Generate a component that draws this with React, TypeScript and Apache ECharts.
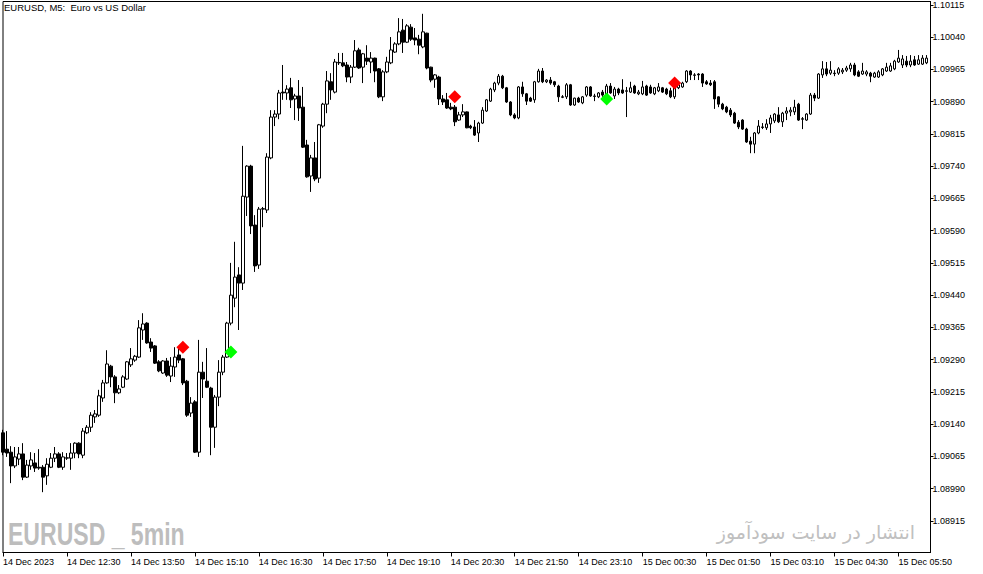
import React, { useEffect, useRef } from "react";
import * as echarts from "echarts";

// [open, close, low, high] per 5-minute candle, grouped by the 80-minute label periods
const c1110 = [
  [1.09120, 1.09075, 1.09068, 1.09127], [1.09082, 1.09073, 1.09064, 1.09124],
  [1.09075, 1.09043, 1.09003, 1.09089], [1.09043, 1.09064, 1.09038, 1.09087],
  [1.09059, 1.09071, 1.09045, 1.09087], [1.09071, 1.09017, 1.09010, 1.09096],
  [1.09017, 1.09045, 1.09015, 1.09057], [1.09043, 1.09057, 1.09034, 1.09075],
  [1.09050, 1.09038, 1.09029, 1.09073], [1.09040, 1.09038, 1.09034, 1.09082],
  [1.09040, 1.09017, 1.08982, 1.09045], [1.09020, 1.09047, 1.08999, 1.09061],
  [1.09040, 1.09061, 1.09038, 1.09073], [1.09061, 1.09071, 1.09052, 1.09087],
  [1.09071, 1.09040, 1.09038, 1.09075], [1.09040, 1.09064, 1.09034, 1.09075],
];
const c1230 = [
  [1.09061, 1.09062, 1.09057, 1.09073], [1.09061, 1.09073, 1.09034, 1.09096],
  [1.09073, 1.09096, 1.09061, 1.09098], [1.09096, 1.09071, 1.09061, 1.09098],
  [1.09068, 1.09124, 1.09061, 1.09131], [1.09120, 1.09133, 1.09117, 1.09138],
  [1.09133, 1.09161, 1.09122, 1.09168], [1.09157, 1.09164, 1.09143, 1.09173],
  [1.09161, 1.09206, 1.09157, 1.09220], [1.09201, 1.09236, 1.09192, 1.09243],
  [1.09236, 1.09280, 1.09234, 1.09312], [1.09275, 1.09250, 1.09226, 1.09278],
  [1.09250, 1.09213, 1.09189, 1.09254], [1.09213, 1.09222, 1.09210, 1.09231],
  [1.09226, 1.09250, 1.09224, 1.09254], [1.09245, 1.09285, 1.09243, 1.09287],
];
const c1350 = [
  [1.09278, 1.09292, 1.09273, 1.09317], [1.09289, 1.09298, 1.09285, 1.09301],
  [1.09296, 1.09364, 1.09294, 1.09382], [1.09359, 1.09373, 1.09336, 1.09398],
  [1.09375, 1.09329, 1.09327, 1.09377], [1.09331, 1.09317, 1.09308, 1.09340],
  [1.09322, 1.09282, 1.09280, 1.09324], [1.09285, 1.09264, 1.09261, 1.09289],
  [1.09259, 1.09287, 1.09257, 1.09289], [1.09287, 1.09254, 1.09250, 1.09294],
  [1.09252, 1.09275, 1.09238, 1.09296], [1.09273, 1.09296, 1.09250, 1.09319],
  [1.09301, 1.09289, 1.09282, 1.09319], [1.09292, 1.09236, 1.09231, 1.09294],
  [1.09240, 1.09161, 1.09157, 1.09243], [1.09166, 1.09189, 1.09157, 1.09203],
];
const c1510 = [
  [1.09192, 1.09075, 1.09073, 1.09196], [1.09075, 1.09261, 1.09064, 1.09336],
  [1.09261, 1.09245, 1.09201, 1.09285], [1.09240, 1.09226, 1.09224, 1.09317],
  [1.09224, 1.09133, 1.09068, 1.09227], [1.09133, 1.09203, 1.09085, 1.09208],
  [1.09203, 1.09261, 1.09182, 1.09289], [1.09261, 1.09296, 1.09254, 1.09301],
  [1.09296, 1.09375, 1.09294, 1.09378], [1.09375, 1.09440, 1.09370, 1.09515],
  [1.09433, 1.09482, 1.09412, 1.09564], [1.09487, 1.09468, 1.09359, 1.09505],
  [1.09468, 1.09670, 1.09452, 1.09787], [1.09668, 1.09740, 1.09624, 1.09742],
  [1.09740, 1.09601, 1.09582, 1.09743], [1.09603, 1.09508, 1.09494, 1.09626],
];
const c1630 = [
  [1.09510, 1.09640, 1.09501, 1.09645], [1.09640, 1.09641, 1.09598, 1.09645],
  [1.09638, 1.09761, 1.09631, 1.09770], [1.09759, 1.09854, 1.09756, 1.09870],
  [1.09854, 1.09861, 1.09833, 1.09870], [1.09861, 1.09910, 1.09849, 1.09917],
  [1.09912, 1.09910, 1.09894, 1.09975], [1.09910, 1.09919, 1.09894, 1.09928],
  [1.09922, 1.09894, 1.09875, 1.09945], [1.09896, 1.09903, 1.09847, 1.09908],
  [1.09903, 1.09875, 1.09845, 1.09940], [1.09877, 1.09784, 1.09782, 1.09924],
  [1.09789, 1.09715, 1.09713, 1.09801], [1.09717, 1.09759, 1.09680, 1.09766],
  [1.09759, 1.09710, 1.09705, 1.09796], [1.09712, 1.09836, 1.09701, 1.09838],
];
const c1750 = [
  [1.09833, 1.09884, 1.09829, 1.09887], [1.09884, 1.09938, 1.09863, 1.09961],
  [1.09936, 1.09917, 1.09894, 1.09956], [1.09912, 1.09982, 1.09909, 1.09989],
  [1.09980, 1.09981, 1.09975, 1.10003], [1.09980, 1.09973, 1.09970, 1.10003],
  [1.09975, 1.09947, 1.09935, 1.09982], [1.09947, 1.09970, 1.09933, 1.09975],
  [1.09970, 1.10008, 1.09968, 1.10033], [1.10010, 1.09968, 1.09966, 1.10015],
  [1.09970, 1.10001, 1.09933, 1.10003], [1.09991, 1.09984, 1.09975, 1.10021],
  [1.09982, 1.09991, 1.09956, 1.10005], [1.09991, 1.09961, 1.09935, 1.09992],
  [1.09966, 1.09901, 1.09898, 1.09968], [1.09901, 1.09959, 1.09891, 1.09963],
];
const c1910 = [
  [1.09959, 1.09982, 1.09956, 1.09994], [1.09980, 1.10010, 1.09977, 1.10040],
  [1.10005, 1.10024, 1.10003, 1.10028], [1.10024, 1.10052, 1.10021, 1.10084],
  [1.10056, 1.10028, 1.10003, 1.10082], [1.10028, 1.10066, 1.10026, 1.10070],
  [1.10063, 1.10035, 1.10031, 1.10070], [1.10038, 1.10033, 1.10021, 1.10061],
  [1.10035, 1.10021, 1.10000, 1.10045], [1.10017, 1.10052, 1.10014, 1.10094],
  [1.10049, 1.09968, 1.09965, 1.10050], [1.09970, 1.09940, 1.09935, 1.09971],
  [1.09942, 1.09952, 1.09922, 1.09954], [1.09947, 1.09896, 1.09882, 1.09950],
  [1.09896, 1.09889, 1.09882, 1.09905], [1.09894, 1.09875, 1.09873, 1.09910],
];
const c2030 = [
  [1.09877, 1.09873, 1.09870, 1.09887], [1.09877, 1.09843, 1.09833, 1.09882],
  [1.09847, 1.09859, 1.09845, 1.09866], [1.09859, 1.09866, 1.09854, 1.09884],
  [1.09866, 1.09829, 1.09828, 1.09867], [1.09833, 1.09829, 1.09826, 1.09836],
  [1.09831, 1.09812, 1.09810, 1.09847], [1.09817, 1.09840, 1.09796, 1.09843],
  [1.09840, 1.09870, 1.09838, 1.09877], [1.09868, 1.09894, 1.09866, 1.09896],
  [1.09891, 1.09919, 1.09889, 1.09922], [1.09917, 1.09933, 1.09912, 1.09936],
  [1.09933, 1.09949, 1.09928, 1.09954], [1.09949, 1.09922, 1.09919, 1.09952],
  [1.09922, 1.09889, 1.09887, 1.09924], [1.09889, 1.09859, 1.09856, 1.09891],
];
const c2150 = [
  [1.09859, 1.09852, 1.09849, 1.09863], [1.09852, 1.09924, 1.09849, 1.09926],
  [1.09924, 1.09908, 1.09901, 1.09936], [1.09908, 1.09891, 1.09882, 1.09910],
  [1.09898, 1.09891, 1.09889, 1.09901], [1.09894, 1.09936, 1.09887, 1.09938],
  [1.09936, 1.09961, 1.09934, 1.09966], [1.09961, 1.09936, 1.09933, 1.09968],
  [1.09936, 1.09940, 1.09933, 1.09942], [1.09940, 1.09933, 1.09929, 1.09947],
  [1.09936, 1.09929, 1.09924, 1.09938], [1.09926, 1.09901, 1.09889, 1.09929],
  [1.09901, 1.09900, 1.09898, 1.09905], [1.09901, 1.09929, 1.09896, 1.09933],
  [1.09929, 1.09882, 1.09880, 1.09931], [1.09882, 1.09898, 1.09880, 1.09899],
];
const c2310 = [
  [1.09898, 1.09889, 1.09887, 1.09901], [1.09887, 1.09901, 1.09884, 1.09903],
  [1.09905, 1.09924, 1.09901, 1.09926], [1.09924, 1.09903, 1.09901, 1.09926],
  [1.09903, 1.09902, 1.09891, 1.09908], [1.09901, 1.09910, 1.09898, 1.09912],
  [1.09912, 1.09905, 1.09901, 1.09917], [1.09908, 1.09926, 1.09903, 1.09931],
  [1.09926, 1.09910, 1.09908, 1.09933], [1.09903, 1.09919, 1.09896, 1.09924],
  [1.09919, 1.09910, 1.09905, 1.09922], [1.09917, 1.09910, 1.09908, 1.09942],
  [1.09915, 1.09914, 1.09854, 1.09924], [1.09912, 1.09922, 1.09910, 1.09936],
  [1.09926, 1.09910, 1.09908, 1.09929], [1.09908, 1.09912, 1.09905, 1.09917],
];
const c0030 = [
  [1.09908, 1.09924, 1.09905, 1.09938], [1.09926, 1.09905, 1.09903, 1.09929],
  [1.09924, 1.09910, 1.09908, 1.09929], [1.09908, 1.09922, 1.09905, 1.09924],
  [1.09915, 1.09924, 1.09912, 1.09933], [1.09922, 1.09912, 1.09910, 1.09924],
  [1.09919, 1.09908, 1.09905, 1.09922], [1.09915, 1.09901, 1.09898, 1.09922],
  [1.09901, 1.09924, 1.09896, 1.09929], [1.09922, 1.09929, 1.09919, 1.09931],
  [1.09924, 1.09933, 1.09922, 1.09936], [1.09936, 1.09961, 1.09933, 1.09963],
  [1.09961, 1.09952, 1.09940, 1.09963], [1.09952, 1.09951, 1.09940, 1.09956],
  [1.09954, 1.09952, 1.09940, 1.09956], [1.09954, 1.09933, 1.09924, 1.09956],
];
const c0150 = [
  [1.09936, 1.09931, 1.09929, 1.09940], [1.09933, 1.09929, 1.09926, 1.09940],
  [1.09936, 1.09896, 1.09873, 1.09940], [1.09901, 1.09884, 1.09877, 1.09902],
  [1.09884, 1.09873, 1.09870, 1.09887], [1.09877, 1.09866, 1.09863, 1.09880],
  [1.09870, 1.09859, 1.09854, 1.09875], [1.09863, 1.09840, 1.09838, 1.09866],
  [1.09842, 1.09831, 1.09826, 1.09847], [1.09847, 1.09826, 1.09824, 1.09849],
  [1.09826, 1.09796, 1.09794, 1.09829], [1.09798, 1.09791, 1.09770, 1.09808],
  [1.09791, 1.09817, 1.09770, 1.09819], [1.09817, 1.09833, 1.09814, 1.09847],
  [1.09831, 1.09830, 1.09826, 1.09840], [1.09829, 1.09838, 1.09824, 1.09849],
];
const c0310 = [
  [1.09838, 1.09852, 1.09817, 1.09859], [1.09845, 1.09861, 1.09840, 1.09863],
  [1.09859, 1.09843, 1.09840, 1.09877], [1.09843, 1.09863, 1.09831, 1.09866],
  [1.09863, 1.09868, 1.09847, 1.09877], [1.09866, 1.09870, 1.09856, 1.09877],
  [1.09866, 1.09877, 1.09859, 1.09894], [1.09884, 1.09847, 1.09845, 1.09887],
  [1.09850, 1.09849, 1.09826, 1.09854], [1.09847, 1.09861, 1.09845, 1.09863],
  [1.09861, 1.09905, 1.09859, 1.09910], [1.09905, 1.09898, 1.09891, 1.09910],
  [1.09898, 1.09954, 1.09896, 1.09956], [1.09952, 1.09966, 1.09945, 1.09984],
  [1.09966, 1.09954, 1.09949, 1.09982], [1.09956, 1.09963, 1.09952, 1.09984],
];
const c0430 = [
  [1.09956, 1.09955, 1.09949, 1.09963], [1.09956, 1.09966, 1.09952, 1.09970],
  [1.09959, 1.09963, 1.09954, 1.09968], [1.09963, 1.09968, 1.09959, 1.09973],
  [1.09966, 1.09975, 1.09959, 1.09980], [1.09975, 1.09952, 1.09949, 1.09980],
  [1.09959, 1.09949, 1.09947, 1.09963], [1.09954, 1.09961, 1.09952, 1.09980],
  [1.09954, 1.09959, 1.09949, 1.09963], [1.09956, 1.09949, 1.09935, 1.09959],
  [1.09947, 1.09956, 1.09945, 1.09959], [1.09947, 1.09959, 1.09945, 1.09963],
  [1.09952, 1.09966, 1.09949, 1.09968], [1.09961, 1.09970, 1.09959, 1.09980],
  [1.09961, 1.09973, 1.09959, 1.09980], [1.09966, 1.09984, 1.09963, 1.09987],
];
const c0550 = [
  [1.09982, 1.09991, 1.09980, 1.10010], [1.09975, 1.09989, 1.09968, 1.09998],
  [1.09984, 1.09975, 1.09970, 1.09996], [1.09975, 1.09984, 1.09970, 1.09998],
  [1.09987, 1.09975, 1.09973, 1.09996], [1.09977, 1.09987, 1.09975, 1.09998],
  [1.09977, 1.09991, 1.09975, 1.09998], [1.09980, 1.09991, 1.09977, 1.09998],
];

const candles = [
  ...c1110, ...c1230, ...c1350, ...c1510, ...c1630, ...c1750, ...c1910, ...c2030,
  ...c2150, ...c2310, ...c0030, ...c0150, ...c0310, ...c0430, ...c0550,
];

// signal arrows: [candle index, price]
const sellSignals = [[45, 1.09319], [113, 1.09901], [168, 1.09933]];
const buySignals = [[57, 1.09308], [151, 1.09896]];

const xTickLabels = [
  "14 Dec 2023", "14 Dec 12:30", "14 Dec 13:50", "14 Dec 15:10", "14 Dec 16:30",
  "14 Dec 17:50", "14 Dec 19:10", "14 Dec 20:30", "14 Dec 21:50", "14 Dec 23:10",
  "15 Dec 00:30", "15 Dec 01:50", "15 Dec 03:10", "15 Dec 04:30", "15 Dec 05:50",
];
const yTickLabels = [
  1.08915, 1.0899, 1.09065, 1.0914, 1.09215, 1.0929, 1.09365, 1.0944, 1.09515,
  1.0959, 1.09665, 1.0974, 1.09815, 1.0989, 1.09965, 1.1004, 1.10115,
];

const LABEL_EVERY = 16;

function buildCategories(count: number): string[] {
  const out: string[] = [];
  const startMin = 11 * 60 + 10;
  for (let k = 0; k < count; k++) {
    const t = startMin + 5 * k;
    const day = 14 + Math.floor(t / 1440);
    const hh = Math.floor((t % 1440) / 60);
    const mm = t % 60;
    out.push(`${day} Dec ${String(hh).padStart(2, "0")}:${String(mm).padStart(2, "0")}`);
  }
  return out;
}

export default function App() {
  const ref = useRef<HTMLDivElement>(null);
  useEffect(() => {
    if (!ref.current) return;
    const chart = echarts.init(ref.current, undefined, { renderer: "svg" });
    const categories = buildCategories(candles.length + 1);
    const tickInterval = (index: number) =>
      index % LABEL_EVERY === 0 && index / LABEL_EVERY < xTickLabels.length;
    const font = "Liberation Sans";
    chart.setOption({
      animation: false,
      backgroundColor: "#ffffff",
      textStyle: { fontFamily: font },
      grid: {
        left: 2.5, right: 52.5, top: 1.5, bottom: 21.5,
        show: true, borderColor: "#000000", borderWidth: 1, backgroundColor: "#ffffff",
      },
      xAxis: {
        type: "category",
        data: categories,
        boundaryGap: false,
        axisLine: { show: true, lineStyle: { color: "#000000", width: 1 } },
        axisTick: { show: true, interval: tickInterval, length: 4, lineStyle: { color: "#000000" } },
        axisLabel: {
          show: true,
          interval: tickInterval,
          formatter: (_v: string, i: number) => xTickLabels[i / LABEL_EVERY] ?? "",
          align: "left",
          margin: 5,
          color: "#000000",
          fontSize: 9,
          fontFamily: font,
        },
        splitLine: { show: false },
      },
      yAxis: {
        type: "value",
        position: "right",
        min: 1.088418,
        max: 1.101226,
        axisLine: { show: true, lineStyle: { color: "#000000", width: 1 } },
        axisTick: { show: true, length: 3, customValues: yTickLabels, lineStyle: { color: "#000000" } },
        axisLabel: {
          show: true,
          customValues: yTickLabels,
          margin: 2,
          formatter: (v: number) => v.toFixed(5),
          color: "#000000",
          fontSize: 9,
          fontFamily: font,
        },
        splitLine: { show: false },
      },
      series: [
        {
          type: "candlestick",
          data: candles,
          barWidth: 3,
          silent: true,
          clip: true,
          itemStyle: {
            color: "#ffffff",
            color0: "#000000",
            borderColor: "#000000",
            borderColor0: "#000000",
            borderColorDoji: "#000000",
            borderWidth: 1,
          },
        },
        {
          type: "scatter",
          data: sellSignals,
          symbol: "diamond",
          symbolSize: 13,
          silent: true,
          z: 5,
          itemStyle: { color: "#ff0000", opacity: 1 },
        },
        {
          type: "scatter",
          data: buySignals,
          symbol: "diamond",
          symbolSize: 13,
          silent: true,
          z: 5,
          itemStyle: { color: "#00ff00", opacity: 1 },
        },
      ],
      graphic: [
        {
          type: "text",
          x: 4,
          y: 7,
          silent: true,
          style: {
            text: "EURUSD, M5:  Euro vs US Dollar",
            fill: "#000000",
            font: `9.5px "${font}"`,
            verticalAlign: "middle",
            textVerticalAlign: "middle",
          },
        },
        {
          type: "text",
          x: 8,
          y: 534,
          scaleX: 0.72,
          silent: true,
          style: {
            text: "EURUSD _ 5min",
            fill: "#bdbdbd",
            font: `bold 32px "${font}"`,
            verticalAlign: "middle",
            textVerticalAlign: "middle",
          },
        },
        {
          type: "text",
          x: 915,
          y: 532,
          silent: true,
          style: {
            text: "انتشار در سایت سودآموز",
            fill: "#c0c0c0",
            font: `19px "DejaVu Sans"`,
            align: "right",
            textAlign: "right",
            verticalAlign: "middle",
            textVerticalAlign: "middle",
          },
        },
      ],
    });
    return () => chart.dispose();
  }, []);
  return (
    <div
      ref={ref}
      style={{ position: "absolute", left: 0, top: 0, width: 983, height: 574 }}
    />
  );
}
